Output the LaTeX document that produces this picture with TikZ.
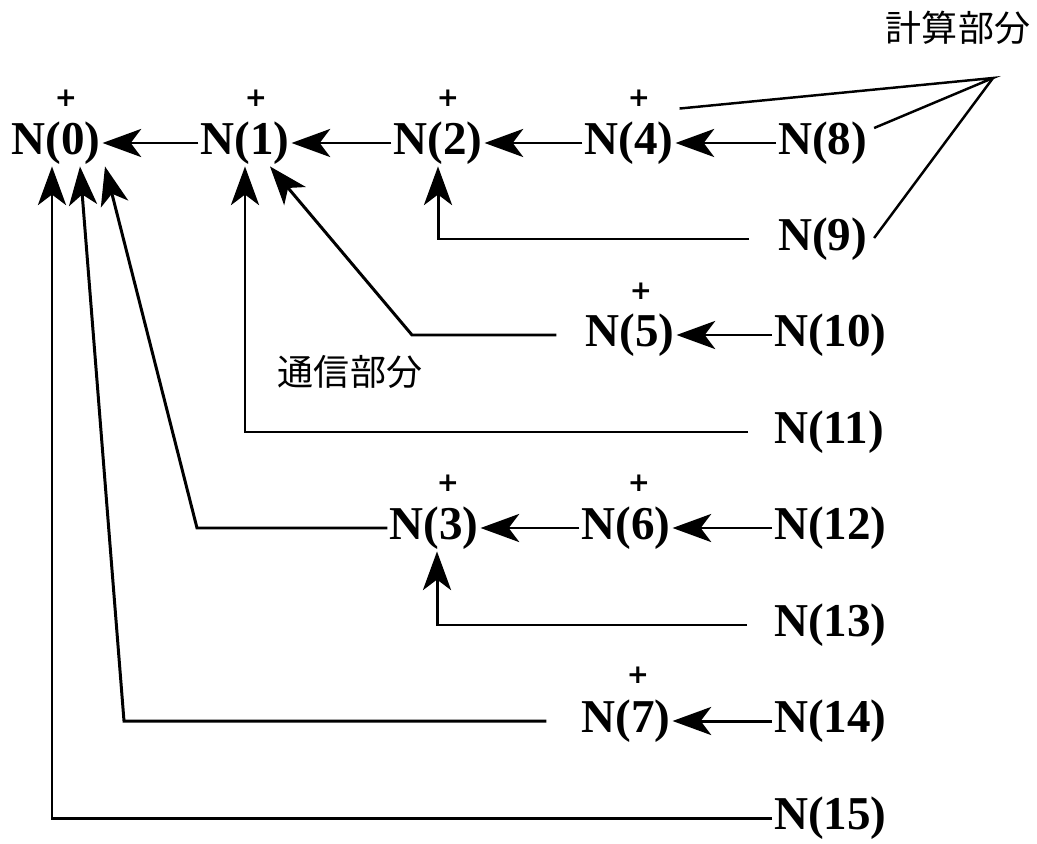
\documentclass[tikz,border=0pt]{standalone}
\usepackage{fontspec}
\setmainfont{Liberation Serif}
\newfontfamily\jfont{Noto Sans CJK JP}
\newfontfamily\plfont{DejaVu Sans}
\usetikzlibrary{arrows.meta,calc}
\begin{document}
\begin{tikzpicture}[x=0.02cm,y=-0.02cm,
  nn/.style={font=\bfseries\fontsize{26.8}{30}\selectfont, inner sep=1pt},
  pl/.style={font=\plfont\bfseries\fontsize{15}{17}\selectfont, inner sep=0pt},
  jp/.style={font=\jfont\fontsize{20.5}{24}\selectfont, inner sep=0pt},
  con/.style={line width=1.7pt},
  thin con/.style={line width=1.4pt},
  arr/.style={con, -{Stealth[length=22pt,width=16pt,inset=6pt]}}]
\useasboundingbox (0,0) rectangle (1037,844);
% nodes
\node[nn] (n0) at (56,143) {N(0)};
\node[nn] (n1) at (245,143) {N(1)};
\node[nn] (n2) at (438,143) {N(2)};
\node[nn] (n4) at (629,143) {N(4)};
\node[nn,anchor=west] (n8) at (776,143) {N(8)};
\node[nn,anchor=west] (n9) at (776,239) {N(9)};
\node[nn] (n5) at (630,335) {N(5)};
\node[nn,anchor=west] (n10) at (772,335) {N(10)};
\node[nn,anchor=west] (n11) at (772,432) {N(11)};
\node[nn] (n3) at (434,528) {N(3)};
\node[nn] (n6) at (626,528) {N(6)};
\node[nn,anchor=west] (n12) at (772,528) {N(12)};
\node[nn,anchor=west] (n13) at (772,625) {N(13)};
\node[nn] (n7) at (626,721) {N(7)};
\node[nn,anchor=west] (n14) at (772,721) {N(14)};
\node[nn,anchor=west] (n15) at (772,818) {N(15)};
% plus marks
\node[pl] (p0) at ($(n0)+(10,-45)$) {+};
\node[pl] (p1) at ($(n1)+(11,-45)$) {+};
\node[pl] (p2) at ($(n2)+(10,-45)$) {+};
\node[pl] (p4) at ($(n4)+(10,-45)$) {+};
\node[pl] (p5) at ($(n5)+(11,-44)$) {+};
\node[pl] (p3) at ($(n3)+(14,-45)$) {+};
\node[pl] (p6) at ($(n6)+(13,-45)$) {+};
\node[pl] (p7) at ($(n7)+(12,-46)$) {+};
% labels
\node[jp] (jcalc) at (958,28) {計算部分};
\node[jp] (jcomm) at (350,372) {通信部分};
% corner coordinates
\coordinate (apex) at (993,78);
\coordinate (k5) at (412,335);
\coordinate (k3) at (197,528);
\coordinate (k7) at (124,721);
% connectors
\draw[arr] (n1.west) -- (n0.east);
\draw[arr] (n2.west) -- (n1.east);
\draw[arr] (n4.west) -- (n2.east);
\draw[arr] (n8.west) -- (n4.east);
\draw[arr] ($(n9.west)+(-27,0)$) -| (n2.south);
\draw[arr] ($(n5.west)+(-27,0)$) -- (k5) -- ($(n1.south)+(25,0)$);
\draw[arr] (n10.west) -- (n5.east);
\draw[arr] ($(n11.west)+(-24,0)$) -| (n1.south);
\draw[arr] (n3.west) -- (k3) -- ($(n0.south)+(49,0)$);
\draw[arr] (n6.west) -- (n3.east);
\draw[arr] (n12.west) -- (n6.east);
\draw[arr] ($(n13.west)+(-25,0)$) -| ($(n3.south)+(3,0)$);
\draw[arr] ($(n7.west)+(-33,0)$) -- (k7) -- ($(n0.south)+(24,0)$);
\draw[arr] (n14.west) -- (n7.east);
\draw[arr] (n15.west) -| ($(n0.south)+(-4,0)$);
% computation part pointers
\draw[thin con] ($(n4.north east)+(4,-11)$) -- (apex) -- ($(n8.east)+(5,-15)$);
\draw[thin con] (apex) -- ($(n9.east)+(5,-1)$);
\end{tikzpicture}
\end{document}
